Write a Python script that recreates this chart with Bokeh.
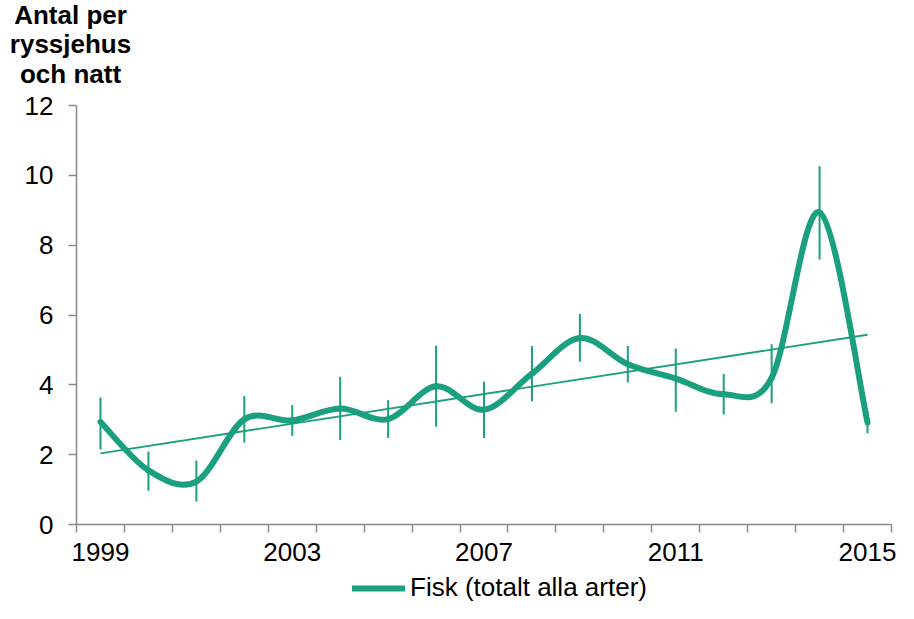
import numpy as np
from bokeh.plotting import figure
from bokeh.layouts import column
from bokeh.models import Range1d, FixedTicker, Label, Legend, LegendItem, ColumnDataSource
from bokeh.embed import file_html
from bokeh.resources import INLINE

# ---- data ----
years = list(range(1999, 2016))
fisk = [2.94, 1.55, 1.23, 3.01, 2.98, 3.32, 3.02, 3.96, 3.29, 4.32, 5.34, 4.59, 4.18, 3.73, 4.20, 8.94, 2.92]
fisk_upper = [3.64, 2.09, 1.83, 3.68, 3.42, 4.23, 3.56, 5.12, 4.09, 5.11, 6.03, 5.11, 5.04, 4.31, 5.16, 10.26, 3.25]
fisk_lower = [2.15, 0.97, 0.66, 2.34, 2.54, 2.42, 2.48, 2.80, 2.48, 3.53, 4.66, 4.07, 3.23, 3.15, 3.47, 7.59, 2.61]
x_tick_years = [1999, 2003, 2007, 2011, 2015]
y_ticks = [0, 2, 4, 6, 8, 10, 12]
title_lines = ["Antal per", "ryssjehus", "och natt"]
legend_label = "Fisk (totalt alla arter)"

GREEN = "#1A9F7F"
AXIS = "#898989"
FONT = "Liberation Sans"
FS = "26px"
W = 898


def bare_strip(h):
    f = figure(width=W, height=h, output_backend="svg", toolbar_location=None, title=None,
               x_range=Range1d(0, 1), y_range=Range1d(0, 1),
               x_axis_location=None, y_axis_location=None, frame_align=False,
               min_border_left=0, min_border_right=0, min_border_top=0, min_border_bottom=0)
    f.outline_line_color = None
    f.xgrid.visible = False
    f.ygrid.visible = False
    f.border_fill_color = "white"
    f.background_fill_color = "white"
    return f


# ---- title strip ----
TH = 90
tf = bare_strip(TH)
for i, t in enumerate(title_lines):
    tf.add_layout(Label(x=70, y=TH - (14 + 29.5 * i), x_units="screen", y_units="screen", text=t,
                        text_align="center", text_baseline="alphabetic",
                        text_font=FONT, text_font_size=FS, text_font_style="bold",
                        text_color="black"))

# ---- smoothed line (Excel-like Catmull-Rom Bezier segments) from the data points ----
xs = np.array(years, dtype=float)
ys = np.array(fisk, dtype=float)
n = len(xs)
x0, y0, x1, y1, cx0, cy0, cx1, cy1 = [], [], [], [], [], [], [], []
for i in range(n - 1):
    ip = max(i - 1, 0)
    inx = min(i + 2, n - 1)
    x0.append(xs[i]); y0.append(ys[i])
    x1.append(xs[i + 1]); y1.append(ys[i + 1])
    cx0.append(xs[i] + (xs[i + 1] - xs[ip]) / 6.0)
    cy0.append(ys[i] + (ys[i + 1] - ys[ip]) / 6.0)
    cx1.append(xs[i + 1] - (xs[inx] - xs[i]) / 6.0)
    cy1.append(ys[i + 1] - (ys[inx] - ys[i]) / 6.0)
curve_src = ColumnDataSource(dict(x0=x0, y0=y0, x1=x1, y1=y1, cx0=cx0, cy0=cy0, cx1=cx1, cy1=cy1))

# linear trend
slope, intercept = np.polyfit(xs, ys, 1)
trend_x = [years[0], years[-1]]
trend_y = [slope * years[0] + intercept, slope * years[-1] + intercept]

p = figure(width=W, height=482, output_backend="svg", toolbar_location=None, title=None,
           x_range=Range1d(1998.5, 2015.5), y_range=Range1d(0, 12), frame_align=False,
           min_border_left=76, min_border_right=7, min_border_top=15, min_border_bottom=48)
p.outline_line_color = None
p.xgrid.visible = False
p.ygrid.visible = False
p.background_fill_color = "white"
p.border_fill_color = "white"

p.segment(x0=years, y0=fisk_lower, x1=years, y1=fisk_upper, line_color=GREEN, line_width=2)
p.line(trend_x, trend_y, line_color=GREEN, line_width=1.8)
p.bezier(x0="x0", y0="y0", x1="x1", y1="y1", cx0="cx0", cy0="cy0", cx1="cx1", cy1="cy1",
         source=curve_src, line_color=GREEN, line_width=6, line_cap="round", line_join="round")

xa = p.xaxis[0]
xa.ticker = FixedTicker(ticks=x_tick_years, minor_ticks=[y - 0.5 for y in years] + [years[-1] + 0.5])
xa.major_tick_out = 0
xa.major_tick_in = 0
xa.minor_tick_out = 8
xa.minor_tick_in = 0
xa.minor_tick_line_color = AXIS
xa.minor_tick_line_width = 1.5
xa.axis_line_color = AXIS
xa.axis_line_width = 1.5
xa.major_label_standoff = 10
xa.major_label_text_font = FONT
xa.major_label_text_font_size = FS
xa.major_label_text_color = "black"

ya = p.yaxis[0]
ya.ticker = FixedTicker(ticks=y_ticks)
ya.minor_tick_line_color = None
ya.major_tick_out = 8
ya.major_tick_in = 0
ya.major_tick_line_color = AXIS
ya.major_tick_line_width = 1.5
ya.axis_line_color = AXIS
ya.axis_line_width = 1.5
ya.major_label_standoff = 15
ya.major_label_text_font = FONT
ya.major_label_text_font_size = FS
ya.major_label_text_color = "black"

# ---- legend strip ----
lf = bare_strip(31)
proxy = lf.line(x=years, y=fisk, line_color=GREEN, line_width=6, line_cap="round", visible=False)
legend = Legend(items=[LegendItem(label=legend_label, renderers=[proxy])],
                location=(352, 0), orientation="horizontal",
                glyph_width=53, glyph_height=20, label_standoff=5, padding=0, margin=0,
                spacing=0, label_text_font=FONT, label_text_font_size=FS,
                label_text_color="black", border_line_color=None, background_fill_alpha=0)
lf.add_layout(legend, "center")

layout = column(tf, p, lf, spacing=0)
open("out.html", "w").write(file_html(layout, INLINE))
